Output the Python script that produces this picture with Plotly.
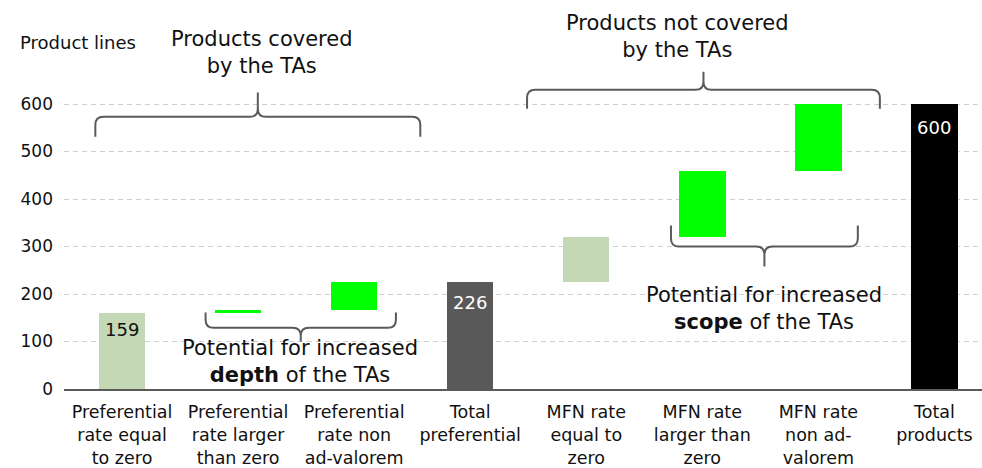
import plotly.graph_objects as go

# Categories along the x axis
categories = [
    "Preferential<br>rate equal<br>to zero",
    "Preferential<br>rate larger<br>than zero",
    "Preferential<br>rate non<br>ad-valorem",
    "Total<br>preferential",
    "MFN rate<br>equal to<br>zero",
    "MFN rate<br>larger than<br>zero",
    "MFN rate<br>non ad-<br>valorem",
    "Total<br>products",
]

# Number of product lines added by each step; totals are drawn from zero
step_values = [159, 8, 59, 226, 95, 139, 140, 600]
is_total = [False, False, False, True, False, False, False, True]

# Bars that carry a value label
labelled_bars = [0, 3, 7]

bar_colors = ["#c4d8b6", "#00ff00", "#00ff00", "#595959",
              "#c4d8b6", "#00ff00", "#00ff00", "#000000"]

# Floating bases for the waterfall steps
bases = []
running = 0
for v, tot in zip(step_values, is_total):
    if tot:
        bases.append(0)
        running = v
    else:
        bases.append(running)
        running += v

x_pos = list(range(len(categories)))
FONT = "DejaVu Sans"
INK = "#111111"

fig = go.Figure()
fig.add_trace(go.Bar(
    x=x_pos,
    y=step_values,
    base=bases,
    width=0.4,
    marker=dict(color=bar_colors, line=dict(width=0)),
    hoverinfo="skip",
    showlegend=False,
))


def brace(x0, x1, y_end, y_line, y_tip, rx=0.07, ry=17):
    """Curly brace: arms at x0/x1 ending at y_end, bar at y_line, tip at y_tip."""
    s = 1 if y_tip > y_line else -1
    xm = (x0 + x1) / 2
    return (
        f"M {x0},{y_end} L {x0},{y_line - s * ry} "
        f"Q {x0},{y_line} {x0 + rx},{y_line} "
        f"L {xm - rx},{y_line} Q {xm},{y_line} {xm},{y_line + s * ry} "
        f"L {xm},{y_tip} "
        f"M {xm},{y_line + s * ry} Q {xm},{y_line} {xm + rx},{y_line} "
        f"L {x1 - rx},{y_line} Q {x1},{y_line} {x1},{y_line - s * ry} "
        f"L {x1},{y_end}"
    )


brace_line = dict(color="#5a5a5a", width=2)
shapes = [
    dict(type="path", xref="x", yref="y", line=brace_line,
         path=brace(-0.23, 2.57, 531, 573, 624)),
    dict(type="path", xref="x", yref="y", line=brace_line,
         path=brace(3.49, 6.53, 590, 630, 668)),
    dict(type="path", xref="x", yref="y", line=brace_line,
         path=brace(0.72, 2.36, 161, 129, 100)),
    dict(type="path", xref="x", yref="y", line=brace_line,
         path=brace(4.73, 6.34, 344, 300, 258)),
]

annotations = [
    dict(x=-0.38, y=730, text="Product lines", showarrow=False,
         font=dict(family=FONT, size=18, color=INK)),
    dict(x=1.207, y=708, text="Products covered<br>by the TAs", showarrow=False,
         font=dict(family=FONT, size=21, color=INK)),
    dict(x=4.79, y=742, text="Products not covered<br>by the TAs", showarrow=False,
         font=dict(family=FONT, size=21, color=INK)),
    dict(x=1.534, y=58, text="Potential for increased<br><b>depth</b> of the TAs",
         showarrow=False, font=dict(family=FONT, size=21, color=INK)),
    dict(x=5.53, y=170, text="Potential for increased<br><b>scope</b> of the TAs",
         showarrow=False, font=dict(family=FONT, size=21, color=INK)),
]

# Value labels just inside the top of the labelled bars
label_style = {0: (INK, -4), 3: ("#ffffff", -8), 7: ("#ffffff", -11)}
for i in labelled_bars:
    top = bases[i] + step_values[i]
    color, shift = label_style[i]
    annotations.append(dict(
        x=x_pos[i], y=top, text=str(top), showarrow=False,
        yanchor="top", yshift=shift,
        font=dict(family=FONT, size=18, color=color),
    ))

fig.update_layout(
    width=982,
    height=468,
    margin=dict(l=64, r=0, t=0, b=79),
    paper_bgcolor="white",
    plot_bgcolor="white",
    bargap=0,
    shapes=shapes,
    annotations=annotations,
    xaxis=dict(
        range=[-0.5, 7.41],
        tickmode="array",
        tickvals=x_pos,
        ticktext=categories,
        showgrid=False,
        zeroline=False,
        showline=True,
        linecolor="#5a5a5a",
        linewidth=2,
        ticks="",
        ticklabelstandoff=6,
        automargin=False,
        tickfont=dict(family=FONT, size=17.5, color=INK),
    ),
    yaxis=dict(
        range=[0, 819],
        tickmode="array",
        tickvals=[0, 100, 200, 300, 400, 500, 600],
        showgrid=True,
        gridcolor="#cfcfcf",
        gridwidth=1.2,
        griddash="5px,4px",
        zeroline=False,
        showline=False,
        ticks="",
        ticklabelstandoff=10,
        automargin=False,
        tickfont=dict(family=FONT, size=17, color=INK),
    ),
)

fig.write_html("out.html")
